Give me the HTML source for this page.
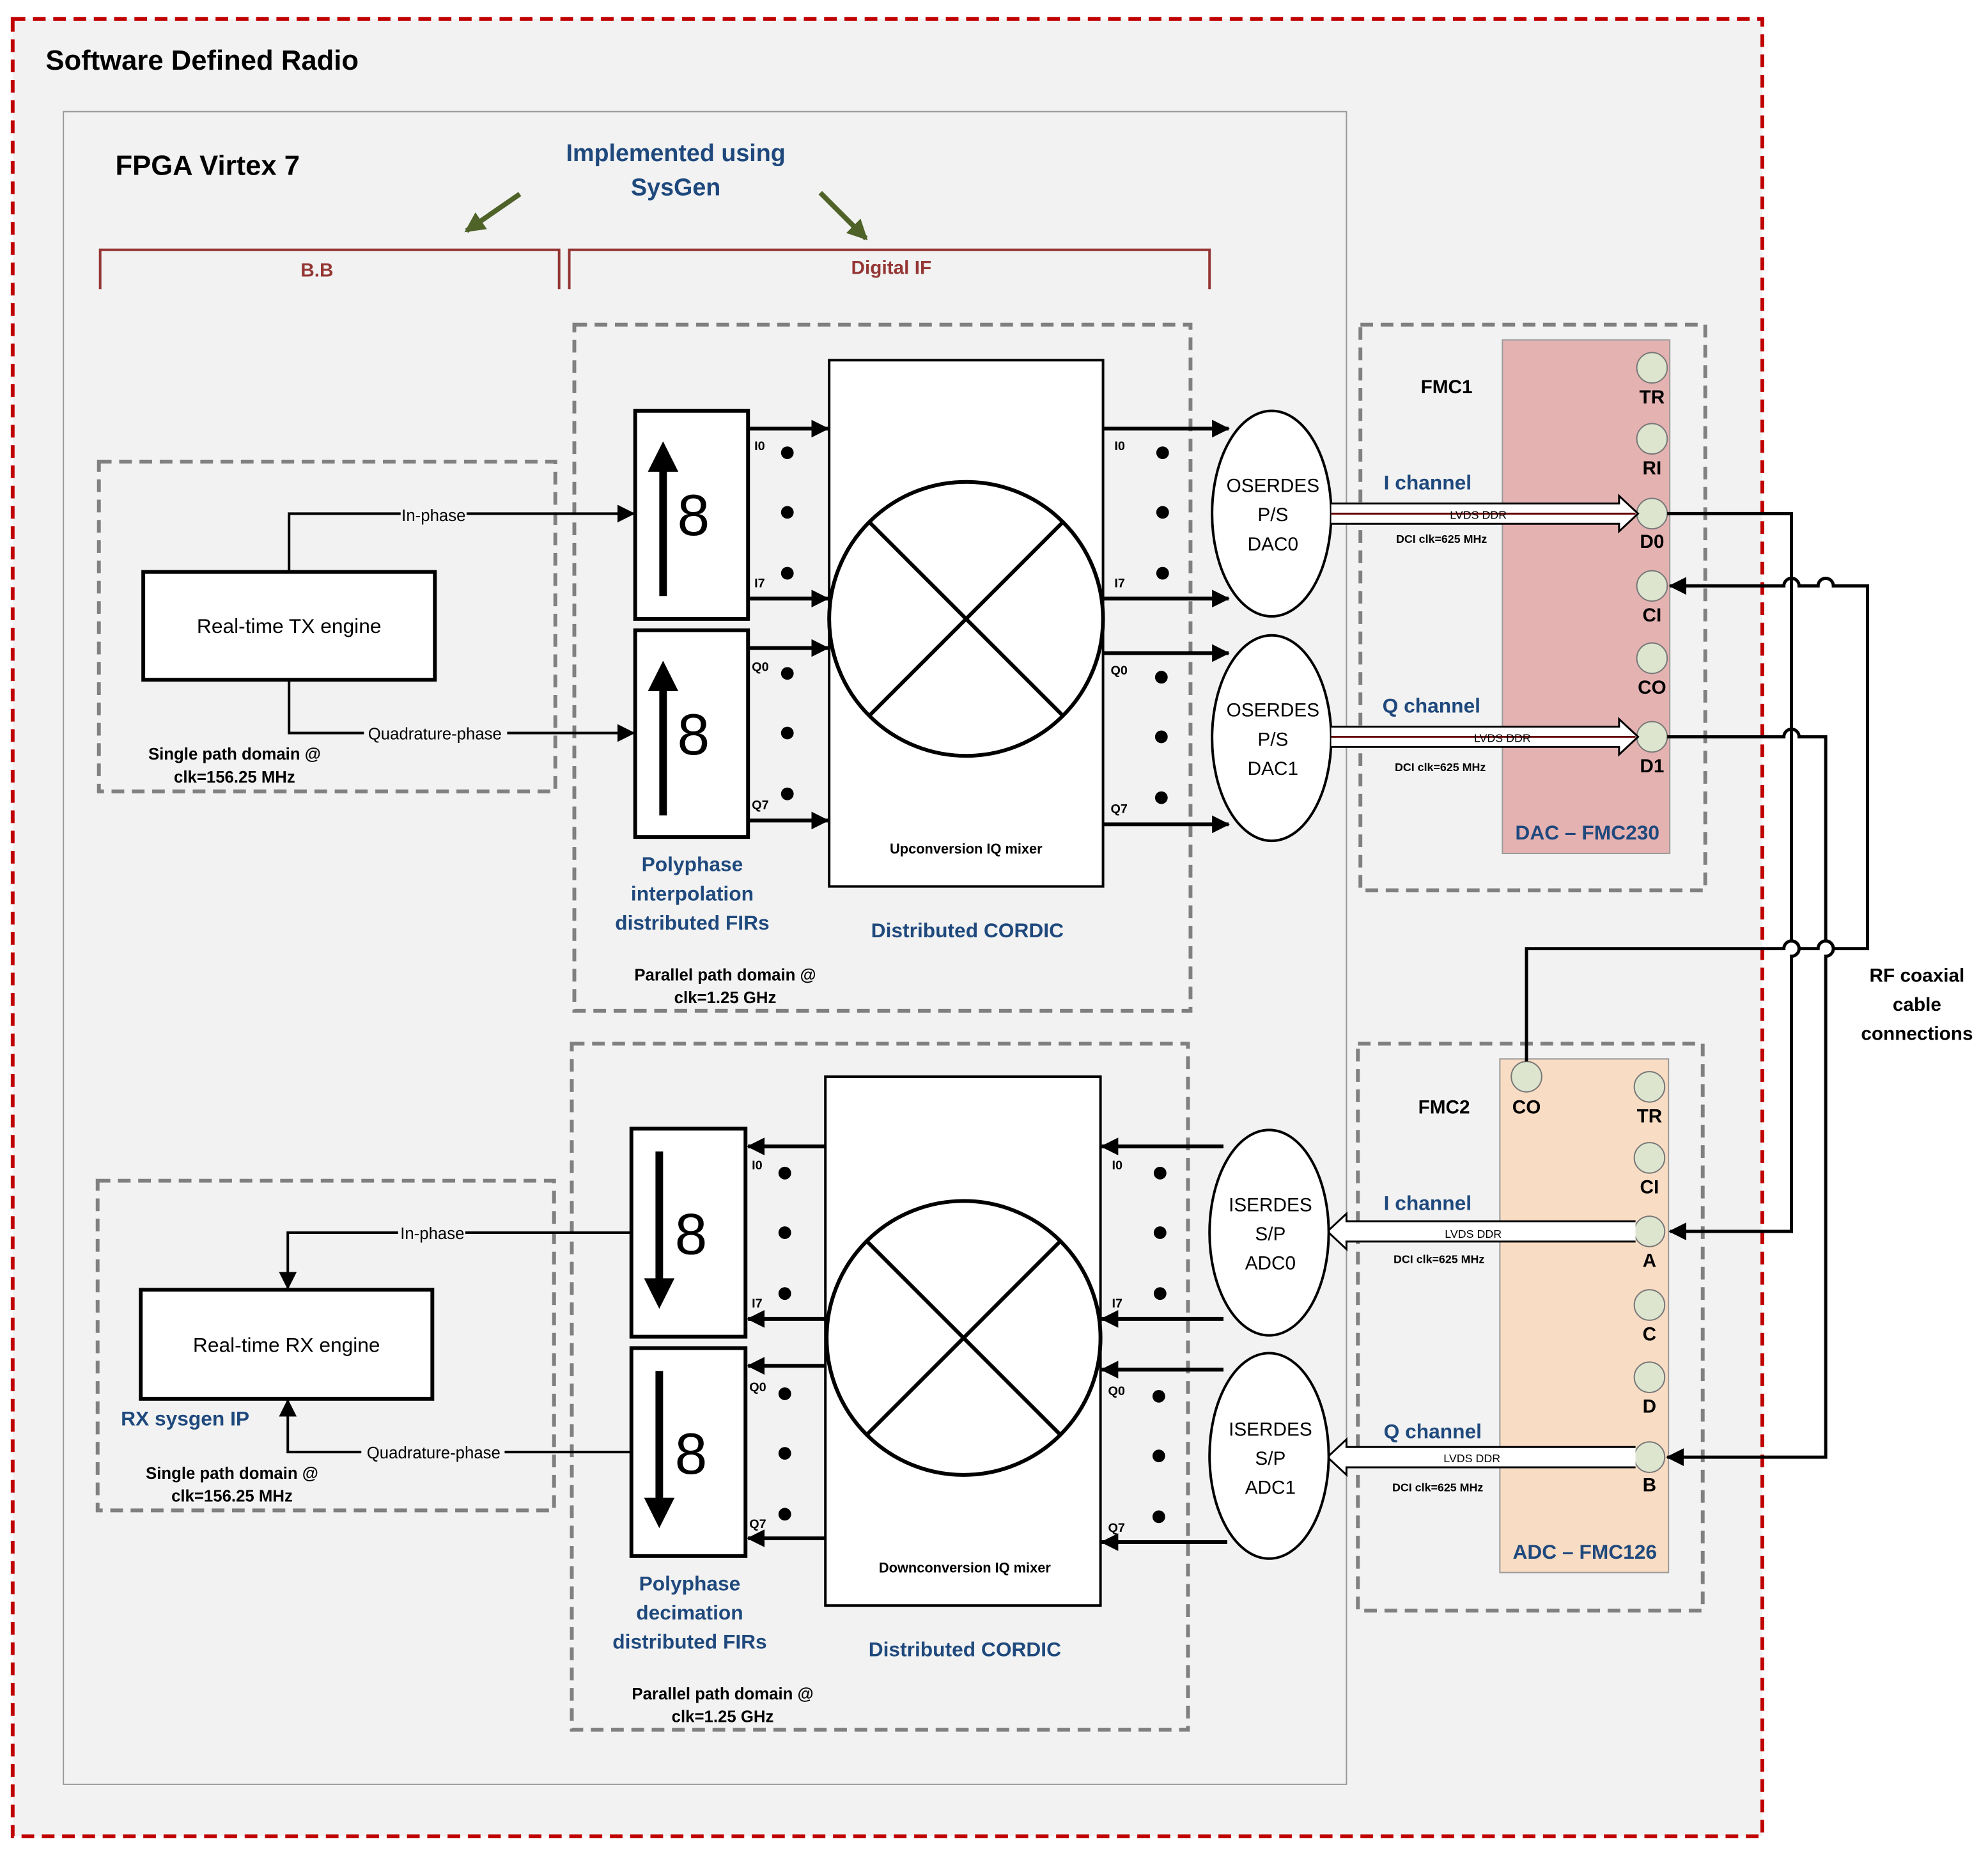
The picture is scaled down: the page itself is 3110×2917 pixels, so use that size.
<!DOCTYPE html>
<html><head><meta charset="utf-8"><style>html,body{margin:0;padding:0;background:#fff}svg{display:block}</style></head>
<body>
<svg xmlns="http://www.w3.org/2000/svg" width="3110" height="2917" viewBox="0 0 1568 1470.6" preserveAspectRatio="none" font-family="Liberation Sans, sans-serif">
<defs>
<marker id="ab" markerWidth="14" markerHeight="14" refX="13" refY="7" orient="auto" markerUnits="userSpaceOnUse"><path d="M0,0 L14,7 L0,14 z" fill="#000"/></marker>
<marker id="g" markerWidth="16" markerHeight="16" refX="14" refY="8" orient="auto" markerUnits="userSpaceOnUse"><path d="M0,0 L16,8 L0,16 z" fill="#4f6228"/></marker>
</defs>
<rect x="10" y="15" width="1380" height="1433" fill="#f2f2f2" stroke="#c00000" stroke-width="3" stroke-dasharray="10,6"/>
<text x="36" y="55" font-size="22" font-weight="bold">Software Defined Radio</text>
<rect x="50" y="88" width="1012" height="1319" fill="#f2f2f2" stroke="#999" stroke-width="1"/>
<text x="91" y="138" font-size="22" font-weight="bold">FPGA Virtex 7</text>
<g fill="#1f497d" font-weight="bold" font-size="19" text-anchor="middle">
<text x="533" y="127">Implemented using</text><text x="533" y="154">SysGen</text></g>
<line x1="410" y1="153" x2="368" y2="182" stroke="#4f6228" stroke-width="4" marker-end="url(#g)"/>
<line x1="647" y1="152" x2="683" y2="188" stroke="#4f6228" stroke-width="4" marker-end="url(#g)"/>
<g stroke="#943634" stroke-width="2" fill="none">
<path d="M79,228 V197 H441 V228"/><path d="M449,228 V197 H954 V228"/></g>
<g fill="#943634" font-weight="bold" font-size="15" text-anchor="middle"><text x="250" y="218">B.B</text><text x="703" y="216">Digital IF</text></g>

<g fill="none" stroke="#808080" stroke-width="3" stroke-dasharray="10,6">
<rect x="78" y="364" width="360" height="260"/>
<rect x="453" y="256" width="486" height="541"/>
<rect x="1073" y="256" width="272" height="446"/>
<rect x="1071" y="823" width="272" height="447"/>
<rect x="77" y="931" width="360" height="260"/>
<rect x="451" y="823" width="486" height="541"/>
</g>

<rect x="113" y="451" width="230" height="85" fill="#fff" stroke="#000" stroke-width="3"/>
<text x="228" y="499" font-size="16" text-anchor="middle">Real-time TX engine</text>
<path d="M228,451 V405 H500" fill="none" stroke="#000" stroke-width="2" marker-end="url(#ab)"/>
<path d="M228,536 V578 H500" fill="none" stroke="#000" stroke-width="2" marker-end="url(#ab)"/>
<g font-size="13" text-anchor="middle">
<rect x="316" y="398" width="52" height="15" fill="#f2f2f2"/><text x="342" y="411">In-phase</text>
<rect x="287" y="571" width="113" height="15" fill="#f2f2f2"/><text x="343" y="583">Quadrature-phase</text></g>
<g font-size="13" font-weight="bold" text-anchor="middle"><text x="185" y="599">Single path domain @</text><text x="185" y="617">clk=156.25 MHz</text></g>

<g stroke="#000" stroke-width="3" fill="#fff"><rect x="501" y="324" width="89" height="164"/><rect x="501" y="497" width="89" height="163"/></g>
<g stroke="#000" stroke-width="6"><line x1="523" y1="470" x2="523" y2="370"/><line x1="523" y1="643" x2="523" y2="543"/></g>
<path d="M511,372 L523,348 L535,372 z M511,545 L523,521 L535,545 z"/>
<g font-size="46" text-anchor="middle"><text x="547" y="422">8</text><text x="547" y="595">8</text></g>
<g stroke="#000" stroke-width="3" marker-end="url(#ab)">
<line x1="590" y1="338" x2="653" y2="338"/><line x1="590" y1="472" x2="653" y2="472"/><line x1="590" y1="511" x2="653" y2="511"/><line x1="590" y1="647" x2="653" y2="647"/></g>
<g font-size="10" font-weight="bold"><text x="595" y="355">I0</text><text x="595" y="463">I7</text><text x="593" y="529">Q0</text><text x="593" y="638">Q7</text></g>
<g fill="#000"><circle cx="621" cy="357" r="5"/><circle cx="621" cy="404" r="5"/><circle cx="621" cy="452" r="5"/><circle cx="621" cy="531" r="5"/><circle cx="621" cy="578" r="5"/><circle cx="621" cy="626" r="5"/></g>
<rect x="654" y="284" width="216" height="415" fill="#fff" stroke="#000" stroke-width="2"/>
<circle cx="762" cy="488" r="108" fill="#fff" stroke="#000" stroke-width="3"/>
<g stroke="#000" stroke-width="3"><line x1="686" y1="412" x2="838" y2="564"/><line x1="838" y1="412" x2="686" y2="564"/></g>
<text x="762" y="673" font-size="11" font-weight="bold" text-anchor="middle">Upconversion IQ mixer</text>
<g stroke="#000" stroke-width="3" marker-end="url(#ab)">
<line x1="870" y1="338" x2="969" y2="338"/><line x1="870" y1="472" x2="969" y2="472"/><line x1="870" y1="515" x2="969" y2="515"/><line x1="870" y1="650" x2="969" y2="650"/></g>
<g font-size="10" font-weight="bold"><text x="879" y="355">I0</text><text x="879" y="463">I7</text><text x="876" y="532">Q0</text><text x="876" y="641">Q7</text></g>
<g fill="#000"><circle cx="917" cy="357" r="5"/><circle cx="917" cy="404" r="5"/><circle cx="917" cy="452" r="5"/><circle cx="916" cy="534" r="5"/><circle cx="916" cy="581" r="5"/><circle cx="916" cy="629" r="5"/></g>
<g fill="#fff" stroke="#000" stroke-width="2"><ellipse cx="1003" cy="405" rx="47" ry="81"/><ellipse cx="1003" cy="582" rx="47" ry="81"/></g>
<g font-size="15" text-anchor="middle"><text x="1004" y="388">OSERDES</text><text x="1004" y="411">P/S</text><text x="1004" y="434">DAC0</text>
<text x="1004" y="565">OSERDES</text><text x="1004" y="588">P/S</text><text x="1004" y="611">DAC1</text></g>
<g fill="#1f497d" font-weight="bold" font-size="16" text-anchor="middle">
<text x="546" y="687">Polyphase</text><text x="546" y="710">interpolation</text><text x="546" y="733">distributed FIRs</text><text x="763" y="739">Distributed CORDIC</text></g>
<g font-size="13" font-weight="bold" text-anchor="middle"><text x="572" y="773">Parallel path domain @</text><text x="572" y="791">clk=1.25 GHz</text></g>

<rect x="1185" y="268" width="132" height="405" fill="#e5b2b2" stroke="#999" stroke-width="1"/>
<g fill="#dde5cf" stroke="#777"><circle cx="1303" cy="290" r="12"/><circle cx="1303" cy="346" r="12"/><circle cx="1303" cy="405" r="12"/><circle cx="1303" cy="462" r="12"/><circle cx="1303" cy="519" r="12"/><circle cx="1303" cy="581" r="12"/></g>
<g font-size="15" font-weight="bold" text-anchor="middle"><text x="1303" y="318">TR</text><text x="1303" y="374">RI</text><text x="1303" y="432">D0</text><text x="1303" y="490">CI</text><text x="1303" y="547">CO</text><text x="1303" y="609">D1</text>
<text x="1141" y="310">FMC1</text></g>
<text x="1252" y="662" font-size="16" font-weight="bold" fill="#1f497d" text-anchor="middle">DAC – FMC230</text>
<g fill="#1f497d" font-size="16" font-weight="bold" text-anchor="middle"><text x="1126" y="386">I channel</text><text x="1129" y="562">Q channel</text></g>
<g fill="#fff" stroke="#000" stroke-width="1.5"><path d="M1050,397 H1277 V391 L1292,405 L1277,419 V413 H1050"/><path d="M1050,573 H1277 V567 L1292,581 L1277,595 V589 H1050"/></g>
<g fill="#600" stroke="#600" stroke-width="1.5"><path d="M1050,405 H1290" /><path d="M1050,581 H1290"/></g>
<g font-size="9" text-anchor="middle"><text x="1166" y="409">LVDS DDR</text><text x="1185" y="585">LVDS DDR</text>
<text x="1137" y="428" font-weight="bold">DCI clk=625 MHz</text><text x="1136" y="608" font-weight="bold">DCI clk=625 MHz</text></g>

<rect x="1183" y="835" width="133" height="405" fill="#f8dcc3" stroke="#999" stroke-width="1"/>
<g fill="#dde5cf" stroke="#777"><circle cx="1301" cy="857" r="12"/><circle cx="1301" cy="913" r="12"/><circle cx="1301" cy="971" r="12"/><circle cx="1301" cy="1029" r="12"/><circle cx="1301" cy="1086" r="12"/><circle cx="1301" cy="1149" r="12"/><circle cx="1204" cy="849" r="12"/></g>
<g font-size="15" font-weight="bold" text-anchor="middle"><text x="1301" y="885">TR</text><text x="1301" y="941">CI</text><text x="1301" y="999">A</text><text x="1301" y="1057">C</text><text x="1301" y="1114">D</text><text x="1301" y="1176">B</text><text x="1204" y="878">CO</text>
<text x="1139" y="878">FMC2</text></g>
<text x="1250" y="1229" font-size="16" font-weight="bold" fill="#1f497d" text-anchor="middle">ADC – FMC126</text>
<g fill="#1f497d" font-size="16" font-weight="bold" text-anchor="middle"><text x="1126" y="954">I channel</text><text x="1130" y="1134">Q channel</text></g>
<g fill="#fff" stroke="#000" stroke-width="1.5"><path d="M1290,963 H1062 V957 L1047,971 L1062,985 V979 H1290"/><path d="M1290,1141 H1062 V1135 L1047,1149 L1062,1163 V1157 H1290"/></g>
<g font-size="9" text-anchor="middle"><text x="1162" y="976">LVDS DDR</text><text x="1161" y="1153">LVDS DDR</text>
<text x="1135" y="996" font-weight="bold">DCI clk=625 MHz</text><text x="1134" y="1176" font-weight="bold">DCI clk=625 MHz</text></g>

<g fill="none" stroke="#000" stroke-width="2.5">
<path d="M1315,405 H1413 V742 a6,6 0 0 1 0,12 V971 H1317" marker-end="url(#ab)"/>
<path d="M1315,581 H1407 a6,6 0 0 1 12,0 H1440 V742 a6,6 0 0 1 0,12 V1149 H1315" marker-end="url(#ab)"/>
<path d="M1204,837 V748 H1407 a6,6 0 0 1 12,0 H1434 a6,6 0 0 1 12,0 H1473 V462 H1446 a6,6 0 0 0 -12,0 H1419 a6,6 0 0 0 -12,0 H1317" marker-end="url(#ab)"/>
</g>
<g font-size="15" font-weight="bold" text-anchor="middle"><text x="1512" y="774">RF coaxial</text><text x="1512" y="797">cable</text><text x="1512" y="820">connections</text></g>

<rect x="111" y="1017" width="230" height="86" fill="#fff" stroke="#000" stroke-width="3"/>
<text x="226" y="1066" font-size="16" text-anchor="middle">Real-time RX engine</text>
<path d="M500,972 H227 V1016" fill="none" stroke="#000" stroke-width="2" marker-end="url(#ab)"/>
<path d="M500,1145 H227 V1104" fill="none" stroke="#000" stroke-width="2" marker-end="url(#ab)"/>
<g font-size="13" text-anchor="middle">
<rect x="314" y="965" width="53" height="15" fill="#f2f2f2"/><text x="341" y="977">In-phase</text>
<rect x="285" y="1138" width="113" height="15" fill="#f2f2f2"/><text x="342" y="1150">Quadrature-phase</text></g>
<text x="146" y="1124" font-size="16" font-weight="bold" fill="#1f497d" text-anchor="middle">RX sysgen IP</text>
<g font-size="13" font-weight="bold" text-anchor="middle"><text x="183" y="1166">Single path domain @</text><text x="183" y="1184">clk=156.25 MHz</text></g>

<g stroke="#000" stroke-width="3" fill="#fff"><rect x="498" y="890" width="90" height="164"/><rect x="498" y="1063" width="90" height="164"/></g>
<g stroke="#000" stroke-width="6"><line x1="520" y1="908" x2="520" y2="1010"/><line x1="520" y1="1081" x2="520" y2="1183"/></g>
<path d="M508,1008 L520,1032 L532,1008 z M508,1181 L520,1205 L532,1181 z"/>
<g font-size="46" text-anchor="middle"><text x="545" y="989">8</text><text x="545" y="1162">8</text></g>
<g stroke="#000" stroke-width="3" marker-end="url(#ab)">
<line x1="651" y1="904" x2="590" y2="904"/><line x1="651" y1="1040" x2="590" y2="1040"/><line x1="651" y1="1077" x2="590" y2="1077"/><line x1="651" y1="1213" x2="590" y2="1213"/></g>
<g font-size="10" font-weight="bold"><text x="593" y="922">I0</text><text x="593" y="1031">I7</text><text x="591" y="1097">Q0</text><text x="591" y="1205">Q7</text></g>
<g fill="#000"><circle cx="619" cy="925" r="5"/><circle cx="619" cy="972" r="5"/><circle cx="619" cy="1020" r="5"/><circle cx="619" cy="1099" r="5"/><circle cx="619" cy="1146" r="5"/><circle cx="619" cy="1194" r="5"/></g>
<rect x="651" y="849" width="217" height="417" fill="#fff" stroke="#000" stroke-width="2"/>
<circle cx="760" cy="1055" r="108" fill="#fff" stroke="#000" stroke-width="3"/>
<g stroke="#000" stroke-width="3"><line x1="684" y1="979" x2="836" y2="1131"/><line x1="836" y1="979" x2="684" y2="1131"/></g>
<text x="761" y="1240" font-size="11" font-weight="bold" text-anchor="middle">Downconversion IQ mixer</text>
<g stroke="#000" stroke-width="3" marker-end="url(#ab)">
<line x1="965" y1="904" x2="869" y2="904"/><line x1="965" y1="1040" x2="869" y2="1040"/><line x1="965" y1="1080" x2="869" y2="1080"/><line x1="968" y1="1216" x2="869" y2="1216"/></g>
<g font-size="10" font-weight="bold"><text x="877" y="922">I0</text><text x="877" y="1031">I7</text><text x="874" y="1100">Q0</text><text x="874" y="1208">Q7</text></g>
<g fill="#000"><circle cx="915" cy="925" r="5"/><circle cx="915" cy="972" r="5"/><circle cx="915" cy="1020" r="5"/><circle cx="914" cy="1101" r="5"/><circle cx="914" cy="1148" r="5"/><circle cx="914" cy="1196" r="5"/></g>
<g fill="#fff" stroke="#000" stroke-width="2"><ellipse cx="1001" cy="972" rx="47" ry="81"/><ellipse cx="1001" cy="1148" rx="47" ry="81"/></g>
<g font-size="15" text-anchor="middle"><text x="1002" y="955">ISERDES</text><text x="1002" y="978">S/P</text><text x="1002" y="1001">ADC0</text>
<text x="1002" y="1132">ISERDES</text><text x="1002" y="1155">S/P</text><text x="1002" y="1178">ADC1</text></g>
<g fill="#1f497d" font-weight="bold" font-size="16" text-anchor="middle">
<text x="544" y="1254">Polyphase</text><text x="544" y="1277">decimation</text><text x="544" y="1300">distributed FIRs</text><text x="761" y="1306">Distributed CORDIC</text></g>
<g font-size="13" font-weight="bold" text-anchor="middle"><text x="570" y="1340">Parallel path domain @</text><text x="570" y="1358">clk=1.25 GHz</text></g>
</svg>
</body></html>
